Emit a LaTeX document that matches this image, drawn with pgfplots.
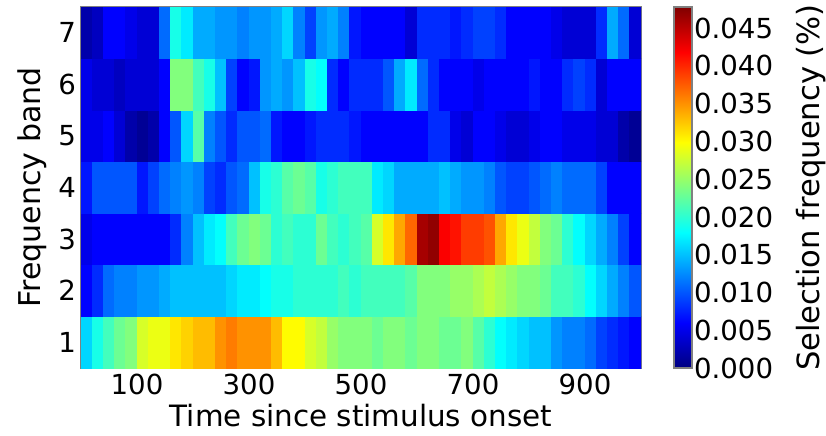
\documentclass[border=0pt]{standalone}
\usepackage{pgfplots}
\pgfplotsset{compat=1.18}
\usepackage{fontspec}
\setmainfont{DejaVu Sans}
\begin{document}
\begin{tikzpicture}
\path[use as bounding box] (0,0) rectangle (413pt,217.5pt);
\begin{axis}[
  at={(40.5pt,33.5pt)}, anchor=south west,
  scale only axis, width=280pt, height=180.5pt,
  xmin=0, xmax=1000, ymin=0.5, ymax=7.5,
  xtick={100,300,500,700,900}, xticklabels={100,300,500,700,900},
  ytick={1,2,3,4,5,6,7}, yticklabels={1,2,3,4,5,6,7},
  tick align=inside, major tick length=2.5pt,
  tick style={black, line width=0.4pt},
  axis line style={gray, line width=0.6pt},
  ticklabel style={font=\fontsize{13.8}{16}\selectfont},
  xticklabel style={inner sep=3pt},
  yticklabel style={inner sep=2.3pt},
  label style={font=\fontsize{15}{18}\selectfont},
  xlabel={Time since stimulus onset},
  xlabel style={font=\fontsize{14.7}{17}\selectfont, yshift=2pt},
  ylabel={Frequency band},
  colormap/jet,
  point meta min=0, point meta max=0.0478,
  colorbar,
  colorbar style={
    at={(parent axis.north east)}, anchor=north west, xshift=8pt,
    scale only axis, width=9pt, height=180.5pt,
    axis line style={gray, line width=0.6pt},
    xtick=\empty,
    scaled y ticks=false,
    ytick={0,0.005,0.010,0.015,0.020,0.025,0.030,0.035,0.040,0.045},
    yticklabels={0.000,0.005,0.010,0.015,0.020,0.025,0.030,0.035,0.040,0.045},
    major tick length=0pt,
    yticklabel style={font=\fontsize{13.8}{16}\selectfont, inner sep=0.8pt},
    ylabel={Selection frequency (\%)},
    ylabel style={font=\fontsize{15.3}{18}\selectfont, at={(ticklabel cs:0.5,7pt)}},
  },
]
\addplot[matrix plot*, mesh/cols=50, point meta=explicit] coordinates {
(10,1)[.016] (30,1)[.019] (50,1)[.021] (70,1)[.023] (90,1)[.024] (110,1)[.028] (130,1)[.029] (150,1)[.029] (170,1)[.031] (190,1)[.032]
(210,1)[.033] (230,1)[.033] (250,1)[.035] (270,1)[.036] (290,1)[.035] (310,1)[.035] (330,1)[.035] (350,1)[.033] (370,1)[.030] (390,1)[.030]
(410,1)[.028] (430,1)[.027] (450,1)[.025] (470,1)[.024] (490,1)[.024] (510,1)[.024] (530,1)[.023] (550,1)[.024] (570,1)[.024] (590,1)[.023]
(610,1)[.024] (630,1)[.024] (650,1)[.023] (670,1)[.023] (690,1)[.024] (710,1)[.022] (730,1)[.020] (750,1)[.018] (770,1)[.017] (790,1)[.016]
(810,1)[.015] (830,1)[.015] (850,1)[.013] (870,1)[.012] (890,1)[.012] (910,1)[.011] (930,1)[.009] (950,1)[.008] (970,1)[.007] (990,1)[.006]
(10,2)[.006] (30,2)[.008] (50,2)[.011] (70,2)[.012] (90,2)[.012] (110,2)[.013] (130,2)[.013] (150,2)[.014] (170,2)[.015] (190,2)[.015]
(210,2)[.015] (230,2)[.015] (250,2)[.015] (270,2)[.016] (290,2)[.017] (310,2)[.017] (330,2)[.018] (350,2)[.019] (370,2)[.019] (390,2)[.020]
(410,2)[.020] (430,2)[.020] (450,2)[.020] (470,2)[.021] (490,2)[.020] (510,2)[.021] (530,2)[.021] (550,2)[.021] (570,2)[.021] (590,2)[.022]
(610,2)[.024] (630,2)[.024] (650,2)[.024] (670,2)[.025] (690,2)[.025] (710,2)[.026] (730,2)[.027] (750,2)[.026] (770,2)[.025] (790,2)[.024]
(810,2)[.024] (830,2)[.023] (850,2)[.021] (870,2)[.021] (890,2)[.020] (910,2)[.018] (930,2)[.016] (950,2)[.014] (970,2)[.012] (990,2)[.010]
(10,3)[.005] (30,3)[.006] (50,3)[.006] (70,3)[.006] (90,3)[.006] (110,3)[.006] (130,3)[.006] (150,3)[.006] (170,3)[.008] (190,3)[.012]
(210,3)[.015] (230,3)[.017] (250,3)[.018] (270,3)[.021] (290,3)[.023] (310,3)[.024] (330,3)[.023] (350,3)[.020] (370,3)[.021] (390,3)[.020]
(410,3)[.020] (430,3)[.023] (450,3)[.021] (470,3)[.020] (490,3)[.021] (510,3)[.022] (530,3)[.028] (550,3)[.031] (570,3)[.034] (590,3)[.037]
(610,3)[.046] (630,3)[.047] (650,3)[.042] (670,3)[.041] (690,3)[.039] (710,3)[.039] (730,3)[.038] (750,3)[.034] (770,3)[.031] (790,3)[.029]
(810,3)[.027] (830,3)[.024] (850,3)[.023] (870,3)[.020] (890,3)[.018] (910,3)[.016] (930,3)[.014] (950,3)[.012] (970,3)[.009] (990,3)[.006]
(10,4)[.007] (30,4)[.010] (50,4)[.010] (70,4)[.010] (90,4)[.010] (110,4)[.007] (130,4)[.009] (150,4)[.011] (170,4)[.012] (190,4)[.013]
(210,4)[.012] (230,4)[.009] (250,4)[.008] (270,4)[.010] (290,4)[.011] (310,4)[.015] (330,4)[.019] (350,4)[.020] (370,4)[.022] (390,4)[.023]
(410,4)[.022] (430,4)[.019] (450,4)[.020] (470,4)[.021] (490,4)[.021] (510,4)[.021] (530,4)[.017] (550,4)[.016] (570,4)[.014] (590,4)[.014]
(610,4)[.014] (630,4)[.014] (650,4)[.015] (670,4)[.014] (690,4)[.013] (710,4)[.013] (730,4)[.012] (750,4)[.010] (770,4)[.009] (790,4)[.009]
(810,4)[.010] (830,4)[.011] (850,4)[.012] (870,4)[.011] (890,4)[.011] (910,4)[.011] (930,4)[.009] (950,4)[.006] (970,4)[.006] (990,4)[.006]
(10,5)[.005] (30,5)[.005] (50,5)[.006] (70,5)[.004] (90,5)[.002] (110,5)[.001] (130,5)[.002] (150,5)[.006] (170,5)[.010] (190,5)[.016]
(210,5)[.022] (230,5)[.012] (250,5)[.010] (270,5)[.008] (290,5)[.010] (310,5)[.010] (330,5)[.011] (350,5)[.007] (370,5)[.006] (390,5)[.006]
(410,5)[.007] (430,5)[.008] (450,5)[.008] (470,5)[.008] (490,5)[.007] (510,5)[.006] (530,5)[.006] (550,5)[.006] (570,5)[.006] (590,5)[.006]
(610,5)[.006] (630,5)[.008] (650,5)[.008] (670,5)[.005] (690,5)[.004] (710,5)[.006] (730,5)[.006] (750,5)[.005] (770,5)[.004] (790,5)[.004]
(810,5)[.005] (830,5)[.006] (850,5)[.006] (870,5)[.005] (890,5)[.005] (910,5)[.005] (930,5)[.004] (950,5)[.004] (970,5)[.002] (990,5)[.001]
(10,6)[.005] (30,6)[.004] (50,6)[.004] (70,6)[.003] (90,6)[.004] (110,6)[.004] (130,6)[.004] (150,6)[.006] (170,6)[.024] (190,6)[.024]
(210,6)[.021] (230,6)[.019] (250,6)[.015] (270,6)[.009] (290,6)[.006] (310,6)[.007] (330,6)[.013] (350,6)[.014] (370,6)[.013] (390,6)[.015]
(410,6)[.019] (430,6)[.018] (450,6)[.008] (470,6)[.006] (490,6)[.008] (510,6)[.008] (530,6)[.008] (550,6)[.010] (570,6)[.014] (590,6)[.017]
(610,6)[.011] (630,6)[.008] (650,6)[.006] (670,6)[.006] (690,6)[.006] (710,6)[.005] (730,6)[.006] (750,6)[.006] (770,6)[.006] (790,6)[.006]
(810,6)[.007] (830,6)[.006] (850,6)[.006] (870,6)[.008] (890,6)[.009] (910,6)[.008] (930,6)[.004] (950,6)[.006] (970,6)[.006] (990,6)[.006]
(10,7)[.002] (30,7)[.003] (50,7)[.006] (70,7)[.006] (90,7)[.005] (110,7)[.004] (130,7)[.004] (150,7)[.011] (170,7)[.019] (190,7)[.017]
(210,7)[.014] (230,7)[.014] (250,7)[.013] (270,7)[.013] (290,7)[.012] (310,7)[.013] (330,7)[.013] (350,7)[.014] (370,7)[.016] (390,7)[.012]
(410,7)[.009] (430,7)[.013] (450,7)[.014] (470,7)[.012] (490,7)[.007] (510,7)[.006] (530,7)[.006] (550,7)[.006] (570,7)[.006] (590,7)[.004]
(610,7)[.008] (630,7)[.008] (650,7)[.008] (670,7)[.007] (690,7)[.008] (710,7)[.009] (730,7)[.009] (750,7)[.008] (770,7)[.006] (790,7)[.006]
(810,7)[.006] (830,7)[.006] (850,7)[.005] (870,7)[.004] (890,7)[.004] (910,7)[.004] (930,7)[.008] (950,7)[.014] (970,7)[.011] (990,7)[.004]
};
\end{axis}
\end{tikzpicture}
\end{document}
